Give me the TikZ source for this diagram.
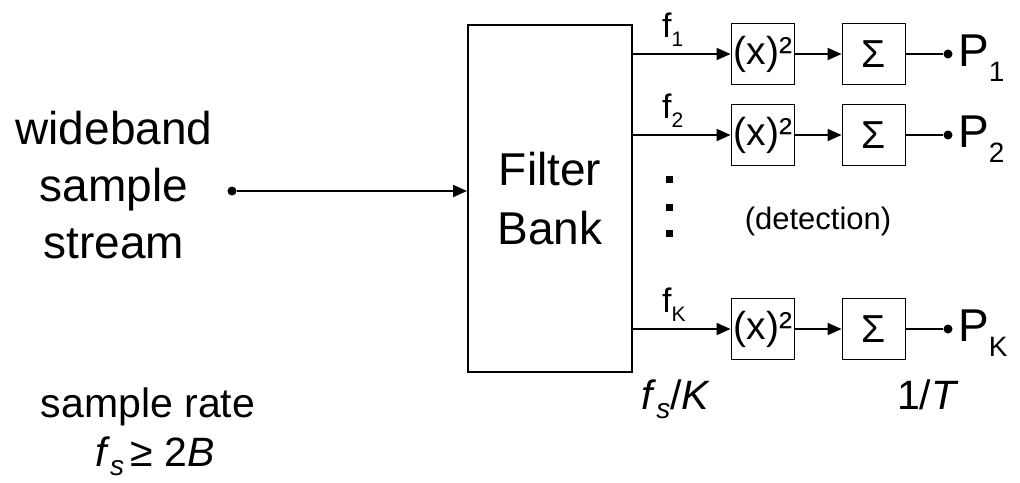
\documentclass[tikz,border=0pt]{standalone}
\usepackage{fontspec}
\setmainfont{Liberation Sans}
\usetikzlibrary{arrows.meta,calc}
\newcommand{\fsub}[1]{\raisebox{-9pt}{\fontsize{21}{21}\selectfont #1}}
\newcommand{\psub}[1]{\raisebox{-15pt}{\fontsize{28}{28}\selectfont #1}}
\newcommand{\ssub}[1]{\raisebox{-9pt}{\fontsize{28}{28}\selectfont\itshape #1}}
\tikzset{
	bx/.style = {draw, line width=1.8pt, inner sep=0pt, minimum width=63pt,
		minimum height=61pt, font=\fontsize{39}{39}\selectfont},
	ar/.style = {-{Triangle[length=14pt, width=12pt]}, line width=1.8pt},
	ln/.style = {line width=1.8pt},
	dt/.style = {circle, fill=black, inner sep=0pt, minimum size=9pt},
	fl/.style = {inner sep=0pt, anchor=base west, font=\fontsize{34}{34}\selectfont},
	pl/.style = {inner sep=0pt, anchor=base west, font=\fontsize{46}{46}\selectfont},
	rt/.style = {inner sep=0pt, anchor=base, font=\fontsize{41}{41}\selectfont},
}

\begin{document}
\begin{tikzpicture}[x=1pt, y=-1pt]
		\useasboundingbox (0,0) rectangle (1020,482);
		
		%%═══════════════════════════════════════════════════════════════════
		%% INPUT  +  FILTER BANK   (box x = 468 … 632, y = 25 … 372)
		%%═══════════════════════════════════════════════════════════════════
		\node[align=center, inner sep=0pt, font=\fontsize{46}{57}\selectfont]
		(src) at (114,185) {wideband\\sample\\stream};
		\node[dt] (in) at (232,191) {};
		
		\node[draw, line width=1.8pt, inner sep=0pt, minimum width=164pt,
		minimum height=347pt, align=center, font=\fontsize{46}{59}\selectfont]
		(fb) at (550,198.5) {Filter\\Bank};
		\draw[ar] (in) -- (in -| fb.west);
		
		%%═══════════════════════════════════════════════════════════════════
		%% CHANNELS   rows y = 54, 135, 329
		%%═══════════════════════════════════════════════════════════════════
		
		%% channel 1 ──────────────────────────────────────────────────────
		\node[bx] (sq1) at (763,54) {(x)²};
		\node[bx] (sg1) at (874,54) {Σ};
		\node[dt] (o1)  at (948,54) {};
		\draw[ar] (fb.east |- sq1) -- (sq1);
		\draw[ar] (sq1) -- (sg1);
		\draw[ln] (sg1) -- (o1);
		\node[fl] (f1) at ($(fb.east |- sq1)+(29,-17)$) {f\fsub{1}};
		\node[pl] (p1) at ($(o1)+(10,12)$) {P\psub{1}};
		
		%% channel 2 ──────────────────────────────────────────────────────
		\node[bx] (sq2) at (763,135) {(x)²};
		\node[bx] (sg2) at (874,135) {Σ};
		\node[dt] (o2)  at (948,135) {};
		\draw[ar] (fb.east |- sq2) -- (sq2);
		\draw[ar] (sq2) -- (sg2);
		\draw[ln] (sg2) -- (o2);
		\node[fl] (f2) at ($(fb.east |- sq2)+(29,-17)$) {f\fsub{2}};
		\node[pl] (p2) at ($(o2)+(10,12)$) {P\psub{2}};
		
		%% vertical dots + note
		\fill (665.5,175.5) rectangle ++(7,7);
		\fill (665.5,203.5) rectangle ++(7,7);
		\fill (665.5,229.5) rectangle ++(7,7);
		\node[inner sep=0pt, font=\fontsize{31}{31}\selectfont] (det) at (818,221)
		{(detection)};
		
		%% channel K ──────────────────────────────────────────────────────
		\node[bx] (sqK) at (763,329) {(x)²};
		\node[bx] (sgK) at (874,329) {Σ};
		\node[dt] (oK)  at (948,329) {};
		\draw[ar] (fb.east |- sqK) -- (sqK);
		\draw[ar] (sqK) -- (sgK);
		\draw[ln] (sgK) -- (oK);
		\node[fl] (fK) at ($(fb.east |- sqK)+(29,-17)$) {f\fsub{K}};
		\node[pl] (pK) at ($(oK)+(10,12)$) {P\psub{K}};
		
		%%═══════════════════════════════════════════════════════════════════
		%% RATES
		%%═══════════════════════════════════════════════════════════════════
		\node[rt] (sr)  at (148,417) {sample rate};
		\node[rt] (fs)  at (155,466) {\textit{f}\ssub{s}\,≥ 2\textit{B}};
		\node[rt] (fsk) at (676,409) {\textit{f}\ssub{s}/\textit{K}};
		\node[rt] (tt)  at (928,409) {1/\textit{T}};
		
	\end{tikzpicture}
\end{document}
